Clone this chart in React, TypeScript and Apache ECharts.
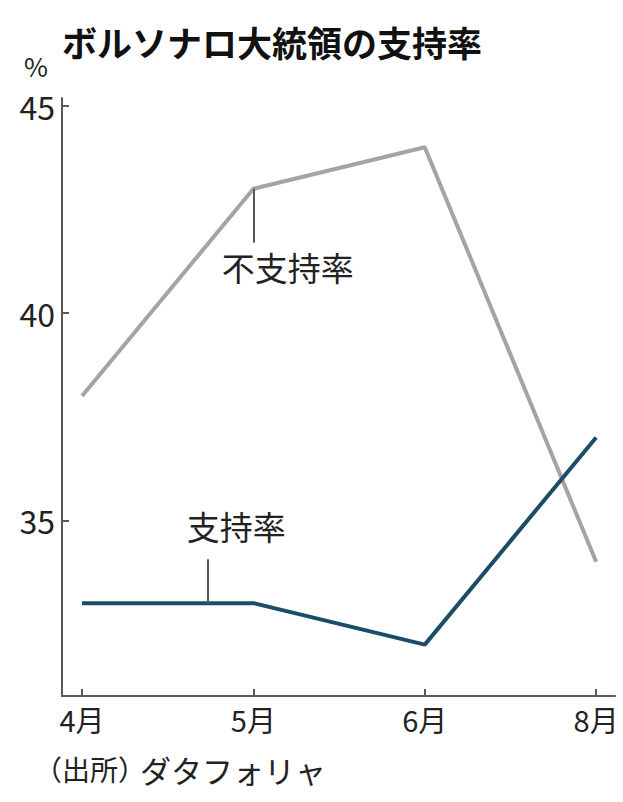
import React, { useEffect, useRef } from "react";
import * as echarts from "echarts";

const months = ["4月", "5月", "6月", "8月"];
const monthPos = [0, 1, 2, 3];
const disapproval = [38, 43, 44, 34];
const approval = [33, 33, 32, 37];
const yTicks = [35, 40, 45];

const TITLE = "ボルソナロ大統領の支持率";
const SOURCE_HEAD = "（出所）";
const SOURCE_NAME = "ダタフォリャ";
const DIS_LABEL = "不支持率";
const APP_LABEL = "支持率";

const NUM_FONT = "'Noto Sans CJK JP', sans-serif";
const JP_FONT = "'Noto Sans CJK JP', sans-serif";

export default function App() {
  const ref = useRef<HTMLDivElement>(null);
  useEffect(() => {
    if (!ref.current) return;
    const chart = echarts.init(ref.current, null, { renderer: "svg" });
    const axisColor = "#5a5a5a";
    chart.setOption({
      animation: false,
      backgroundColor: "#ffffff",
      title: {
        text: TITLE,
        left: 57,
        top: 19,
        textStyle: { fontFamily: JP_FONT, fontSize: 35, fontWeight: "bold", color: "#111" },
      },
      graphic: [
        { type: "text", left: 24, top: 52, style: { text: "%", font: `26px ${NUM_FONT}`, fill: "#222" } },
        { type: "text", left: 34, top: 755, style: { text: SOURCE_HEAD, font: `28px ${JP_FONT}`, fill: "#222" } },
        { type: "text", left: 140, top: 754, style: { text: SOURCE_NAME, font: `31px ${JP_FONT}`, fill: "#222" } },
      ],
      grid: { left: 62, right: 8, top: 98, bottom: 106, containLabel: false },
      xAxis: {
        type: "value",
        min: -0.117,
        max: 3.11,
        splitLine: { show: false },
        axisLine: { show: true, onZero: false, lineStyle: { color: axisColor, width: 2 } },
        axisTick: { show: true, inside: true, length: 7, customValues: monthPos, lineStyle: { color: axisColor, width: 2 } },
        axisLabel: {
          customValues: monthPos,
          formatter: (v: number) => months[Math.round(v)] ?? "",
          margin: 8,
          fontSize: 29,
          fontFamily: NUM_FONT,
          color: "#222",
        },
      },
      yAxis: {
        type: "value",
        min: 30.76,
        max: 45.19,
        splitLine: { show: false },
        axisLine: { show: true, onZero: false, lineStyle: { color: axisColor, width: 2 } },
        axisTick: { show: true, inside: true, length: 7, customValues: yTicks, lineStyle: { color: axisColor, width: 2 } },
        axisLabel: {
          customValues: yTicks,
          margin: 7,
          fontSize: 32,
          fontFamily: NUM_FONT,
          color: "#222",
        },
      },
      series: [
        {
          type: "line",
          name: DIS_LABEL,
          data: monthPos.map((x, i) => [x, disapproval[i]]),
          symbol: "none",
          lineStyle: { color: "#a3a3a8", width: 4 },
          markLine: {
            silent: true,
            symbol: "none",
            label: { show: false },
            lineStyle: { color: axisColor, width: 2, type: "solid" },
            data: [[{ coord: [1, 43] }, { coord: [1, 41.7] }]],
          },
          markPoint: {
            symbol: "rect",
            symbolSize: 0,
            label: { show: true, position: "inside", formatter: DIS_LABEL, fontSize: 33, fontFamily: JP_FONT, color: "#222" },
            data: [{ coord: [1.2, 41.1] }],
          },
        },
        {
          type: "line",
          name: APP_LABEL,
          data: monthPos.map((x, i) => [x, approval[i]]),
          symbol: "none",
          lineStyle: { color: "#1c4d68", width: 4 },
          markLine: {
            silent: true,
            symbol: "none",
            label: { show: false },
            lineStyle: { color: axisColor, width: 2, type: "solid" },
            data: [[{ coord: [0.735, 33] }, { coord: [0.735, 34.06] }]],
          },
          markPoint: {
            symbol: "rect",
            symbolSize: 0,
            label: { show: true, position: "inside", formatter: APP_LABEL, fontSize: 33, fontFamily: JP_FONT, color: "#222" },
            data: [{ coord: [0.9, 34.87] }],
          },
        },
      ],
    });
    return () => chart.dispose();
  }, []);
  return <div ref={ref} style={{ position: "fixed", left: 0, top: 0, width: 623, height: 802 }} />;
}
